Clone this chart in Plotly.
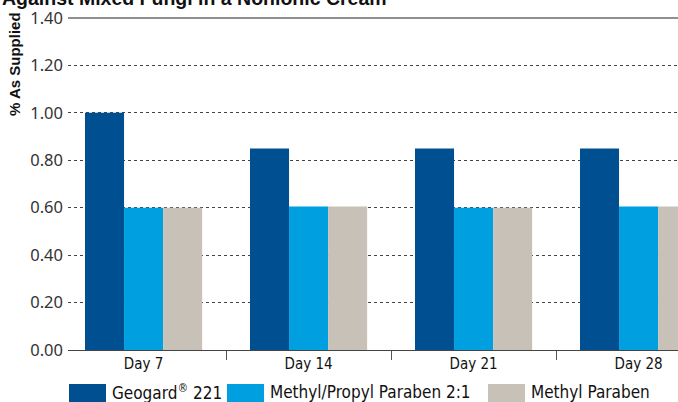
import plotly.graph_objects as go

categories = ["Day 7", "Day 14", "Day 21", "Day 28"]
series_names = ["Geogard<sup>®</sup> 221", "Methyl/Propyl Paraben 2:1", "Methyl Paraben"]
geogard = [1.00, 0.85, 0.85, 0.85]
methyl_propyl = [0.60, 0.605, 0.60, 0.605]
methyl = [0.60, 0.605, 0.60, 0.605]
series_values = [geogard, methyl_propyl, methyl]
colors = ["#005091", "#009FDF", "#C8C1B8"]
y_ticks = [0.0, 0.2, 0.4, 0.6, 0.8, 1.0, 1.2, 1.4]
y_tick_labels = ["0.00", "0.20", "0.40", "0.60", "0.80", "1.00", "1.20", "1.40"]

title_text = "Against Mixed Fungi in a Nonionic Cream"
y_title = "% As Supplied"

cond_font = "DejaVu Sans Condensed"

fig = go.Figure()
for name, vals, col in zip(series_names, series_values, colors):
    fig.add_trace(go.Bar(x=categories, y=vals, name=name, marker=dict(color=col, line=dict(width=0)),
                         showlegend=False, hoverinfo="skip"))

W, H = 678, 402
ml, mr, mt, mb = 68, 0, 18, 52
pw = W - ml - mr
ph = H - mt - mb


def px_x(x):
    return (x - ml) / pw


def px_y(y):
    return (H - mb - y) / ph


fig.update_layout(
    width=W, height=H,
    margin=dict(l=ml, r=mr, t=mt, b=mb, pad=0),
    paper_bgcolor="white", plot_bgcolor="white",
    barmode="group", bargap=0.29, bargroupgap=0,
    xaxis=dict(
        type="category", range=[-0.458, 3.239], automargin=False,
        tickson="boundaries", ticks="outside", ticklen=9, tickcolor="#555", tickwidth=1,
        showline=True, linecolor="#444", linewidth=1,
        showgrid=False,
        tickfont=dict(family=cond_font, size=15, color="#111"),
    ),
    yaxis=dict(
        range=[0, 1.4], tickvals=y_ticks, ticktext=y_tick_labels, automargin=False,
        showgrid=True, gridcolor="#444", gridwidth=1, griddash="3px,3px",
        zeroline=False, showline=False, ticks="",
        tickfont=dict(family="Noto Sans", size=16.5, color="#333"),
        ticklabelstandoff=4,
    ),
    showlegend=False,
)

# solid top line
fig.add_shape(type="line", xref="paper", yref="y domain", x0=0, x1=1, y0=1, y1=1,
              line=dict(color="#222", width=1.2))

# title (partially cut off at top, as in the reference)
fig.add_annotation(text="<b>" + title_text + "</b>", xref="paper", yref="paper",
                   x=px_x(0), y=px_y(-2), xanchor="left", yanchor="middle",
                   showarrow=False, font=dict(family="Liberation Sans", size=19.5, color="#111"))

# y-axis title placed at top-left
fig.add_annotation(text="<b>" + y_title + "</b>", xref="paper", yref="paper",
                   x=px_x(15), y=px_y(10),
                   xanchor="center", yanchor="top", textangle=-90, showarrow=False,
                   font=dict(family="Liberation Sans", size=15, color="#111"))

# custom legend with wide swatches
swatch_x = [69, 227, 488]
for sx, name, col in zip(swatch_x, series_names, colors):
    fig.add_shape(type="rect", xref="paper", yref="paper", x0=px_x(sx), x1=px_x(sx + 37),
                  y0=px_y(403), y1=px_y(384), fillcolor=col, line=dict(width=0))
    fig.add_annotation(text=name, xref="paper", yref="paper", x=px_x(sx + 41),
                       y=px_y(392), xanchor="left", yanchor="middle", showarrow=False,
                       font=dict(family=cond_font, size=17, color="#111"))

fig.write_html("out.html", config={"displayModeBar": False},
               post_script="document.body.style.margin='0px';document.body.style.overflow='hidden';")
